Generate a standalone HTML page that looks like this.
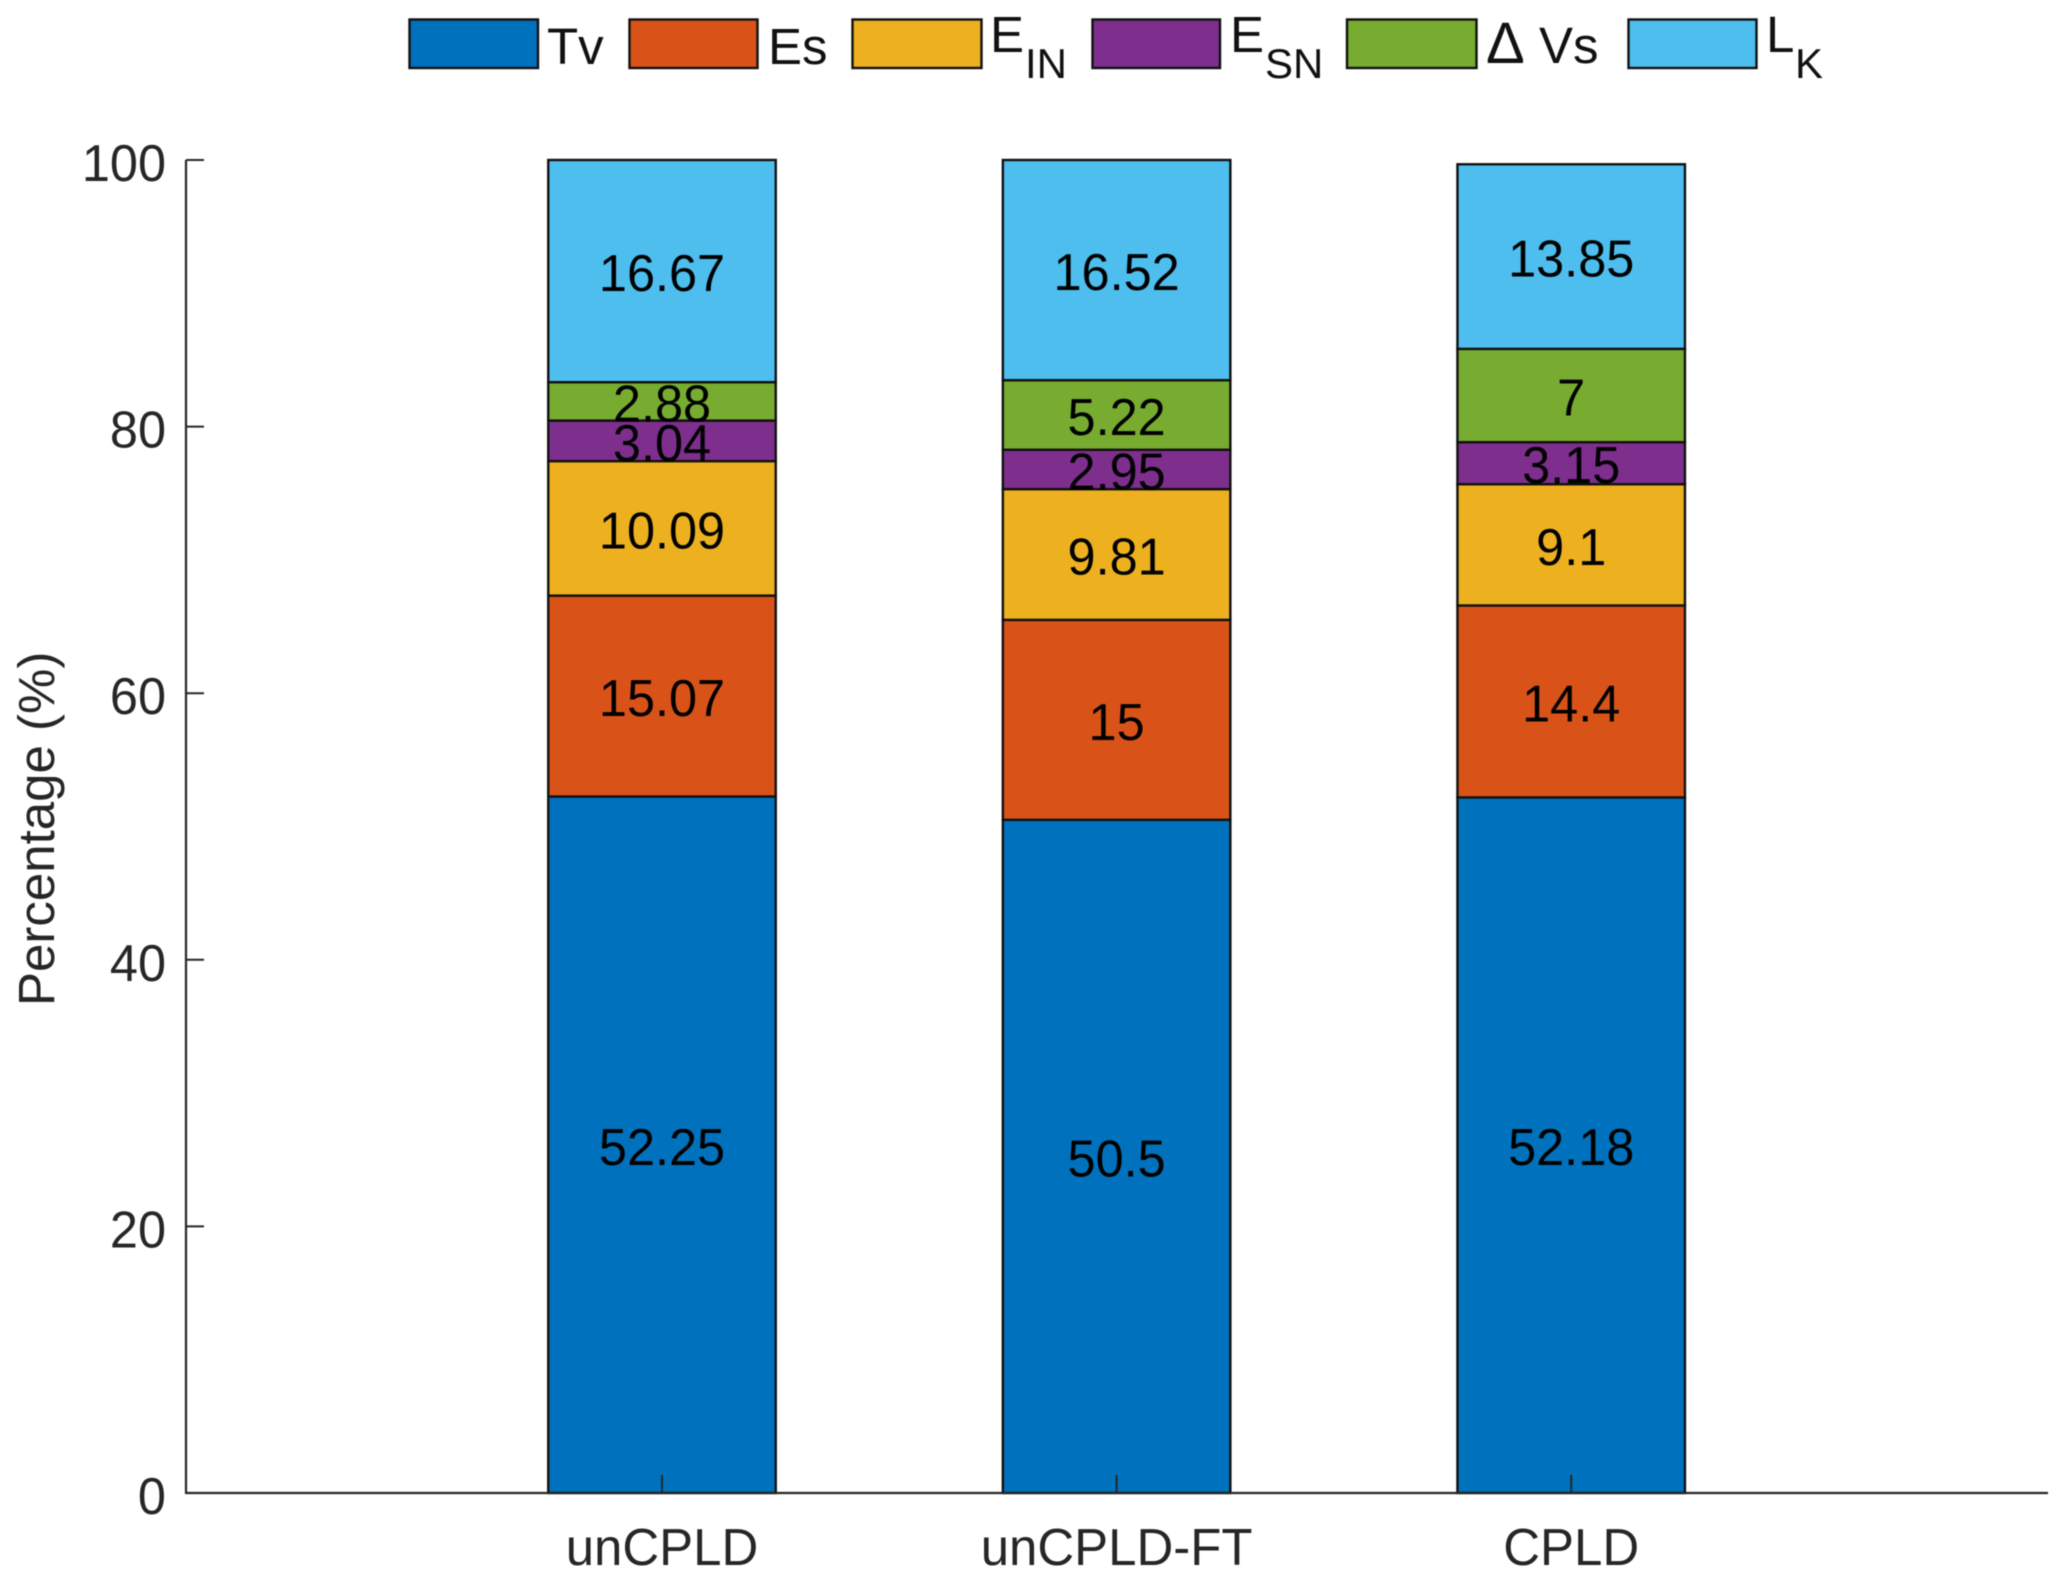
<!DOCTYPE html>
<html lang="en">
<head>
<meta charset="utf-8">
<title>Stacked percentage bar chart</title>
<style>
  html, body { margin: 0; padding: 0; background: #fff; }
  svg { display: block; filter: blur(0.45px); }
  text { font-family: "Liberation Sans", Arial, sans-serif; }
</style>
</head>
<body>
<svg id="chart" xmlns="http://www.w3.org/2000/svg" width="2067" height="1585" viewBox="0 0 2067 1585">
  <rect x="0" y="0" width="2067" height="1585" fill="#ffffff"/>
  <g id="bars"></g>
  <g id="labels"></g>
  <g id="axes"></g>
  <text transform="translate(54,1006) rotate(-90)" font-size="51" fill="#262626">Percentage (%)</text>
  <g font-size="51" fill="#111111">
    <g>
      <rect x="409.5" y="19.5" width="128.5" height="48.5" fill="#0072BD" stroke="#111" stroke-width="2.4"/>
      <text x="547" y="64">Tv</text>
    </g>
    <g>
      <rect x="629.5" y="19.5" width="128" height="48.5" fill="#D95319" stroke="#111" stroke-width="2.4"/>
      <text x="768" y="64">Es</text>
    </g>
    <g>
      <rect x="852.5" y="19.5" width="129" height="48.5" fill="#EDB120" stroke="#111" stroke-width="2.4"/>
      <text x="990" y="52">E<tspan x="1025" y="78" font-size="42">IN</tspan></text>
    </g>
    <g>
      <rect x="1092.5" y="19.5" width="127.5" height="48.5" fill="#7E2F8E" stroke="#111" stroke-width="2.4"/>
      <text x="1230" y="52">E<tspan x="1265" y="78" font-size="42">SN</tspan></text>
    </g>
    <g>
      <rect x="1347" y="19.5" width="129.5" height="48.5" fill="#77AC30" stroke="#111" stroke-width="2.4"/>
      <text x="1486" y="63"><tspan font-size="58">Δ</tspan><tspan x="1539">Vs</tspan></text>
    </g>
    <g>
      <rect x="1628.5" y="19.5" width="128" height="48.5" fill="#4DBEEE" stroke="#111" stroke-width="2.4"/>
      <text x="1766" y="52">L<tspan x="1795" y="78" font-size="42">K</tspan></text>
    </g>
  </g>
</svg>
<script>
const categories = ["unCPLD", "unCPLD-FT", "CPLD"];
const seriesNames = ["tv", "es", "ein", "esn", "delta-vs", "lk"];
const seriesColors = ["#0072BD", "#D95319", "#EDB120", "#7E2F8E", "#77AC30", "#4DBEEE"];
const tvValues = [52.25, 50.5, 52.18];
const esValues = [15.07, 15, 14.4];
const einValues = [10.09, 9.81, 9.1];
const esnValues = [3.04, 2.95, 3.15];
const deltaVsValues = [2.88, 5.22, 7];
const lkValues = [16.67, 16.52, 13.85];
const yTickLabels = [0, 20, 40, 60, 80, 100];

const allSeries = [tvValues, esValues, einValues, esnValues, deltaVsValues, lkValues];
const NS = "http://www.w3.org/2000/svg";

function yScale(v) { return 1493 - v * 13.33; }
function xScale(i) { return 662 + i * 454.6; }
const barWidth = 227.5;

function make(tag, attrs, parent) {
  const el = document.createElementNS(NS, tag);
  for (const k in attrs) el.setAttribute(k, attrs[k]);
  parent.appendChild(el);
  return el;
}

const barsGroup = document.getElementById("bars");
const labelsGroup = document.getElementById("labels");
const axesGroup = document.getElementById("axes");

categories.forEach(function (cat, c) {
  let cum = 0;
  allSeries.forEach(function (series, s) {
    const v = series[c];
    const yTop = yScale(cum + v);
    const yBot = yScale(cum);
    const rect = make("rect", {
      x: xScale(c) - barWidth / 2,
      y: yTop,
      width: barWidth,
      height: yBot - yTop,
      fill: seriesColors[s],
      stroke: "#111111",
      "stroke-width": 2.4
    }, barsGroup);
    
    

    const label = make("text", {
      transform: "translate(" + xScale(c) + "," + (yScale(cum + v / 2) + 20) + ") scale(0.97,1)",
      "text-anchor": "middle",
      "font-size": 52,
      fill: "#000000"
    }, labelsGroup);
    label.textContent = String(v);
    
    

    cum += v;
  });
});

const yAxisLine = make("line", { x1: 186, x2: 186, y1: yScale(100), y2: yScale(0), stroke: "#262626", "stroke-width": 2.2 }, axesGroup);



const xAxisLine = make("line", { x1: 185, x2: 2048, y1: yScale(0), y2: yScale(0), stroke: "#262626", "stroke-width": 2.2 }, axesGroup);



yTickLabels.forEach(function (t) {
  const tick = make("line", { x1: 186, x2: 204, y1: yScale(t), y2: yScale(t), stroke: "#262626", "stroke-width": 2 }, axesGroup);
  
  

  const label = make("text", {
    transform: "translate(166," + (yScale(t) + 21) + ") scale(0.97,1)",
    "text-anchor": "end",
    "font-size": 52,
    fill: "#262626"
  }, axesGroup);
  label.textContent = String(t);
  
  
});

categories.forEach(function (cat, c) {
  const tick = make("line", { x1: xScale(c), x2: xScale(c), y1: yScale(0), y2: yScale(0) - 18, stroke: "#262626", "stroke-width": 2 }, axesGroup);
  
  

  const label = make("text", {
    transform: "translate(" + xScale(c) + ",1565) scale(0.98,1)",
    "text-anchor": "middle",
    "font-size": 52,
    fill: "#262626"
  }, axesGroup);
  label.textContent = cat;
  
  
});
</script>
</body>
</html>
